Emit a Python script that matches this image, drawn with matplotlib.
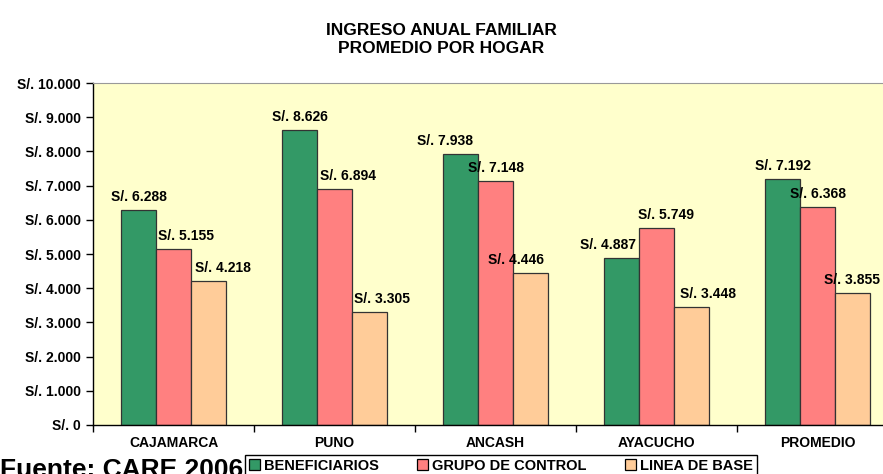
import matplotlib
matplotlib.use("Agg")
from matplotlib import pyplot as plt
from matplotlib.ticker import FixedLocator, FuncFormatter

plt.rcParams['font.family'] = ['Liberation Sans', 'DejaVu Sans']

# Data
categories = ['CAJAMARCA', 'PUNO', 'ANCASH', 'AYACUCHO', 'PROMEDIO']
series_names = ['BENEFICIARIOS', 'GRUPO DE CONTROL', 'LINEA DE BASE']
beneficiarios = [6288, 8626, 7938, 4887, 7192]
grupo_control = [5155, 6894, 7148, 5749, 6368]
linea_base = [4218, 3305, 4446, 3448, 3855]
y_ticks = list(range(0, 10001, 1000))

colors = ['#339966', '#FF8080', '#FFCC99']
# label shifts in pixels (Excel nudged some labels sideways)
label_shift = [[0, 0, -16, -14, 0],
               [12, 14, 0, 9, 0],
               [15, 13, -14, 17, 0]]


def soles(v, pos=None):
    return "S/. " + f"{int(v):,}".replace(",", ".")


fig = plt.figure(figsize=(8.83, 4.74), dpi=100)
ax = fig.add_axes([93 / 883, 1 - 425 / 474, 805 / 883, (425 - 83) / 474])
ax.set_facecolor('#FFFFCC')

width = 0.217
x = list(range(len(categories)))
all_series = [beneficiarios, grupo_control, linea_base]
for k, values in enumerate(all_series):
    pos = [i + (k - 1) * width for i in x]
    ax.bar(pos, values, width, color=colors[k], edgecolor='#333333',
           linewidth=0.9, label=series_names[k], zorder=2)
    for i, v in enumerate(values):
        ax.annotate(soles(v), (pos[i], v), xytext=(label_shift[k][i], 13),
                    textcoords='offset pixels', ha='center', va='center',
                    fontsize=10, fontweight='bold', zorder=3)

ax.set_xlim(-0.5, len(categories) - 0.5)
ax.set_ylim(0, 10000)
ax.yaxis.set_major_locator(FixedLocator(y_ticks))
ax.yaxis.set_major_formatter(FuncFormatter(soles))
ax.set_xticks([i - 0.5 for i in range(len(categories) + 1)])
ax.set_xticklabels([])
ax.set_xticks(x, minor=True)
ax.set_xticklabels(categories, minor=True)
ax.tick_params(axis='x', which='minor', length=0, pad=8)
ax.tick_params(axis='x', which='major', length=5, width=1)
ax.tick_params(axis='y', length=5, width=1)
for lab in ax.get_yticklabels() + ax.get_xticklabels(minor=True):
    lab.set_fontsize(10)
    lab.set_fontweight('bold')
ax.spines['top'].set_color('#999999')
ax.spines['right'].set_visible(False)
ax.spines['left'].set_linewidth(1)
ax.spines['bottom'].set_linewidth(1)

fig.text(0.5, 1 - 23 / 474, 'INGRESO ANUAL FAMILIAR\nPROMEDIO POR HOGAR',
         ha='center', va='top', fontsize=12.5, fontweight='bold',
         linespacing=1.25)

# source line, cut by the bottom edge and partly hidden by the legend
fig.text(0.0, 1 - 458 / 474, 'Fuente: CARE 2006', ha='left', va='top',
         fontsize=19, fontweight='bold', zorder=1)

leg = fig.legend(loc='upper center', bbox_to_anchor=(501 / 883, 1 - 455 / 474),
                 ncol=3, frameon=True, fancybox=False, edgecolor='black',
                 facecolor='white', framealpha=1,
                 handlelength=0.75, handleheight=0.75, handletextpad=0.3,
                 columnspacing=2.6, borderpad=0.25, borderaxespad=0,
                 prop={'weight': 'bold', 'size': 10.5})
leg.set_zorder(5)
for h in leg.legend_handles:
    h.set_edgecolor('black')

fig.savefig('out.png', dpi=100)
